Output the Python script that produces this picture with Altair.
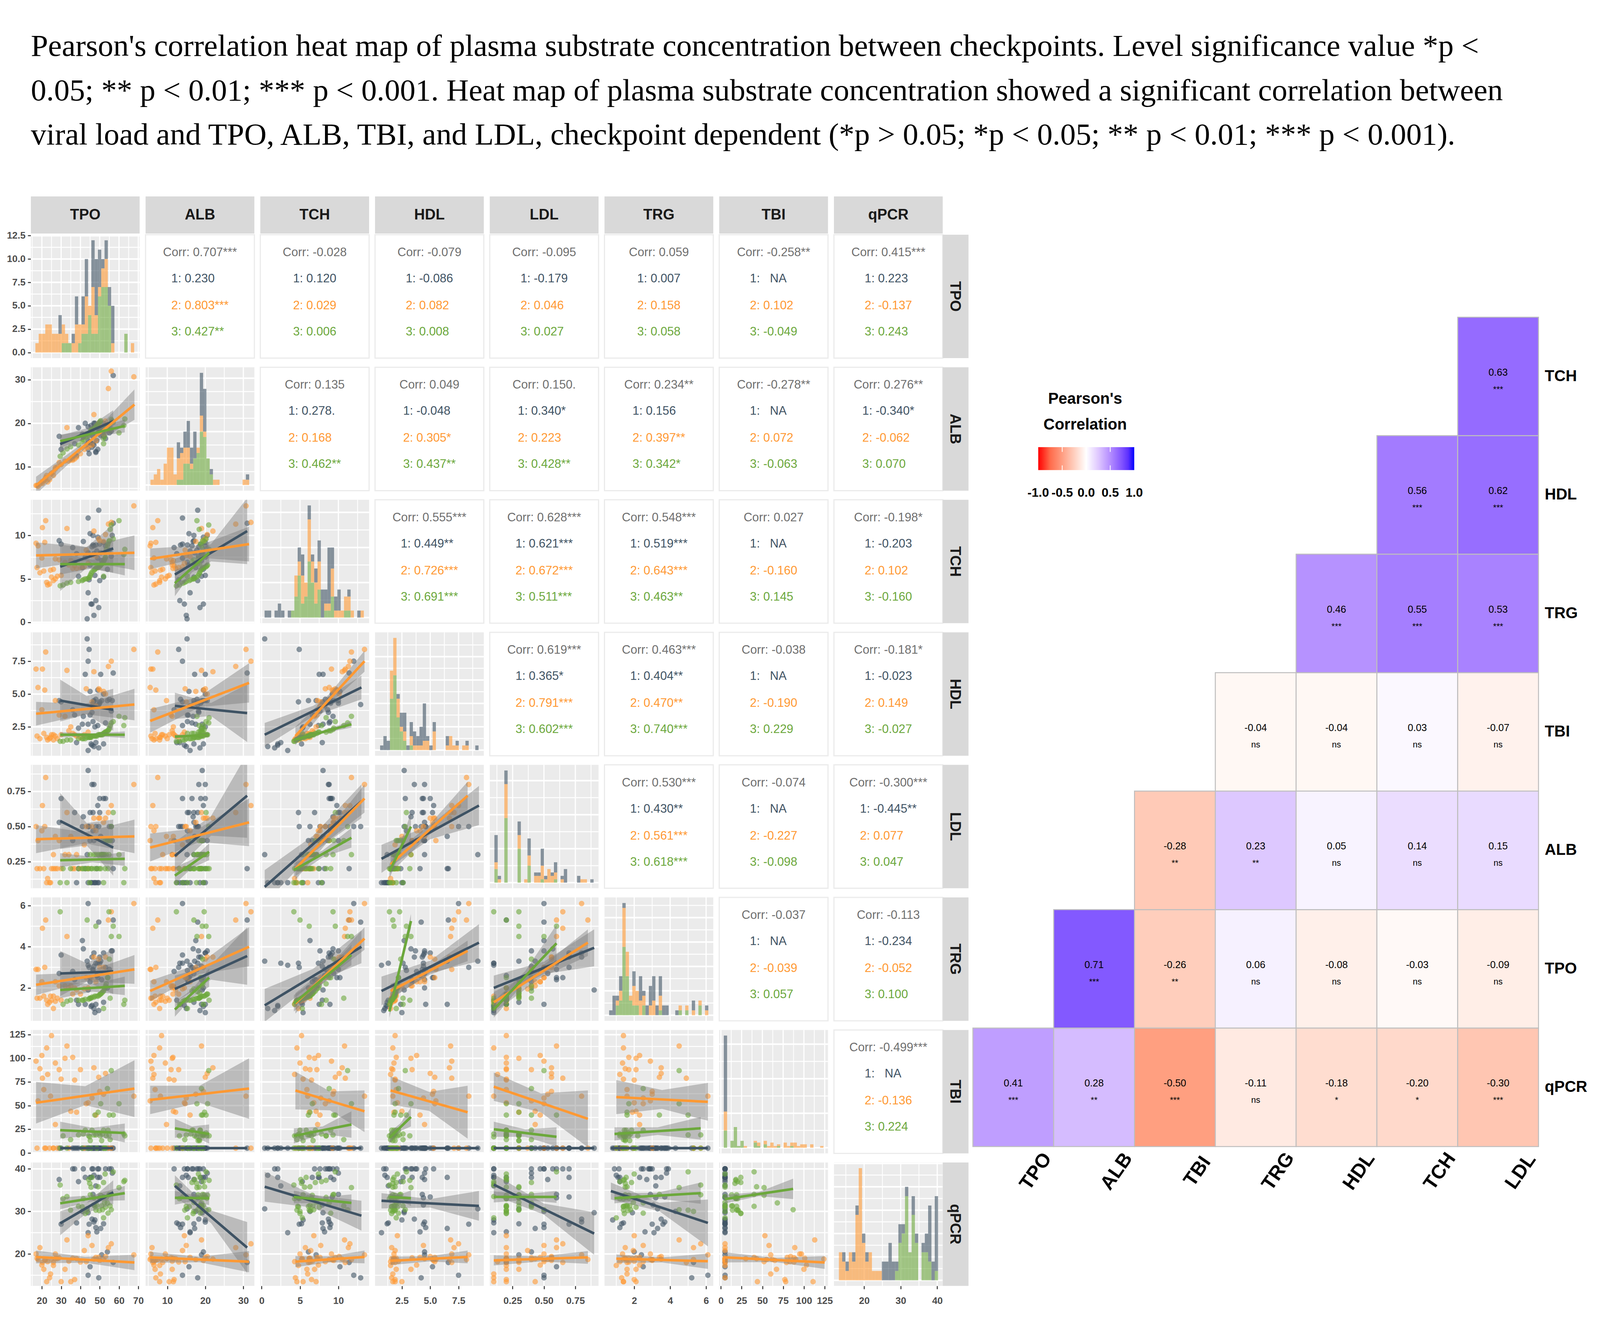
import altair as alt
import pandas as pd

VARS = ["TPO", "ALB", "TCH", "HDL", "LDL", "TRG", "TBI", "qPCR"]
TITLE_LINES = [
    "Pearson's correlation heat map of plasma substrate concentration between checkpoints. Level significance value *p <",
    "0.05; ** p < 0.01; *** p < 0.001. Heat map of plasma substrate concentration showed a significant correlation between",
    "viral load and TPO, ALB, TBI, and LDL, checkpoint dependent (*p > 0.05; *p < 0.05; ** p < 0.01; *** p < 0.001).",
]
C_GROUP = ["#3F5364", "#FF9933", "#6CA83C"]
GROUPS = ["1", "2", "3"]

# axis ranges of each variable
X_DOM = {"TPO": [14.3, 70.7], "ALB": [4.3, 32.9], "TCH": [-0.17, 14.0], "HDL": [0.13, 9.73],
         "LDL": [0.068, 0.935], "TRG": [0.345, 6.4], "TBI": [-2, 129], "qPCR": [11.75, 41.5]}
Y_DOM = {"TPO": [-0.6, 12.6], "ALB": [4.5, 32.9], "TCH": [-0.1, 14.1], "HDL": [0.3, 9.7],
         "LDL": [0.06, 0.94], "TRG": [0.4, 6.4], "TBI": [-0.5, 130], "qPCR": [12.5, 41.5]}
MAJOR = {"TPO": [20, 30, 40, 50, 60, 70], "ALB": [10, 20, 30], "TCH": [0, 5, 10], "HDL": [2.5, 5, 7.5],
         "LDL": [0.25, 0.5, 0.75], "TRG": [2, 4, 6], "TBI": [0, 25, 50, 75, 100, 125], "qPCR": [20, 30, 40]}
MINOR = {"TPO": [15, 25, 35, 45, 55, 65], "ALB": [5, 15, 25], "TCH": [2.5, 7.5, 12.5], "HDL": [1.25, 3.75, 6.25, 8.75],
         "LDL": [0.125, 0.375, 0.625, 0.875], "TRG": [1, 3, 5], "TBI": [12.5, 37.5, 62.5, 87.5, 112.5], "qPCR": [15, 25, 35]}
FMT = {"TPO": "d", "ALB": "d", "TCH": "d", "HDL": ".1f", "LDL": ".2f", "TRG": "d", "TBI": "d", "qPCR": "d"}

# histogram bars: first bin edge, bin width, counts of group 1, 2, 3 per bin
HIST_LO = {"TPO": 16.65, "ALB": 5.58, "TCH": 0.386, "HDL": 0.577, "LDL": 0.105, "TRG": 0.604, "TBI": 3.5, "qPCR": 13.1}
HIST_W = {"TPO": 1.707, "ALB": 0.865, "TCH": 0.431, "HDL": 0.2896, "LDL": 0.02635, "TRG": 0.184, "TBI": 4.0, "qPCR": 0.904}
HIST_MAX = {"TPO": 12, "ALB": 21, "TCH": 16, "HDL": 24, "LDL": 33, "TRG": 23, "TBI": 65, "qPCR": 12}
HIST_MAJOR = {"TPO": [0, 2.5, 5, 7.5, 10, 12.5], "ALB": [0, 5, 10, 15, 20], "TCH": [0, 5, 10, 15], "HDL": [0, 5, 10, 15, 20],
              "LDL": [0, 10, 20, 30], "TRG": [0, 5, 10, 15, 20], "TBI": [0, 20, 40, 60], "qPCR": [0, 2.5, 5, 7.5, 10, 12.5]}
HIST_MINOR = {"TPO": [1.25, 3.75, 6.25, 8.75, 11.25], "ALB": [2.5, 7.5, 12.5, 17.5], "TCH": [2.5, 7.5, 12.5], "HDL": [2.5, 7.5, 12.5, 17.5, 22.5],
              "LDL": [5, 15, 25], "TRG": [2.5, 7.5, 12.5, 17.5, 22.5], "TBI": [10, 30, 50], "qPCR": [1.25, 3.75, 6.25, 8.75, 11.25]}
H_TPO = ([0,0,0,0,0,0,0,2,0,0,0,1,3,0,3,4,0,5,6,4,1,2,2,4,0,0,0,0,0,0],
         [1,2,2,3,3,2,2,2,2,1,0,1,3,2,1,4,1,5,2,1,2,3,0,1,0,0,0,0,0,1],
         [0,0,0,0,0,0,0,0,1,1,1,0,0,1,2,2,4,2,2,6,7,7,5,0,0,0,0,2,0,0])
H_ALB = ([0,0,0,0,0,0,0,0,3,1,3,5,3,5,0,8,8,0,1,0,0,0,0,0,0,0,0,0,0,1],
         [1,2,3,1,4,7,7,2,4,5,3,3,1,0,1,3,1,0,0,1,1,0,0,0,0,0,0,0,1,1],
         [0,0,0,0,0,0,0,0,1,1,4,4,3,5,6,10,9,5,2,0,0,0,0,0,0,0,0,0,0,0])
H_TCH = ([1,1,0,1,2,1,0,1,0,0,2,3,0,2,1,2,3,4,2,8,3,2,3,0,0,1,0,0,1,0],
         [0,0,0,0,0,0,0,0,0,3,2,4,2,6,3,3,4,0,1,1,4,1,1,1,2,2,1,0,0,1],
         [0,0,0,0,0,0,0,0,1,3,6,2,3,8,5,2,4,0,1,1,3,0,0,0,1,1,0,0,0,0])
H_HDL = ([1,3,2,0,0,1,3,4,1,3,3,2,4,8,1,1,2,0,0,0,2,0,0,1,0,0,1,0,0,1],
         [0,0,0,6,8,4,1,2,0,2,1,1,1,2,2,0,4,0,0,0,1,3,1,1,0,1,1,0,0,0],
         [0,0,0,11,16,7,4,2,0,1,0,0,0,0,0,0,0,0,0,0,0,0,0,0,0,0,0,0,0,0])
H_LDL = ([8,1,0,4,0,0,0,4,0,0,5,0,1,1,5,1,0,1,3,0,1,4,0,0,0,2,0,0,0,1],
         [2,1,0,10,0,0,0,4,0,1,3,0,2,2,4,1,4,2,2,0,1,0,0,0,0,0,1,1,0,0],
         [4,0,0,19,0,0,0,10,0,0,5,0,0,0,1,0,0,0,1,0,0,0,0,0,0,0,0,0,0,0])
H_TRG = ([1,4,1,3,1,0,0,3,0,5,1,2,4,5,2,4,2,2,0,0,1,0,0,0,0,2,0,0,0,1],
         [0,0,1,2,8,5,1,4,3,3,2,0,2,3,0,3,0,0,0,0,0,1,0,1,0,1,0,1,0,1],
         [0,0,2,3,14,8,3,2,2,0,2,0,0,0,0,1,0,0,0,0,0,1,0,1,0,0,0,2,0,0])
H_TBI = ([44,0,0,0,0,0,0,0,0,0,0,0,0,0,0,0,0,0,0,0,0,0,0,0,0,0,0,0,0,0],
         [11,0,0,0,0,0,1,0,0,1,2,0,2,1,3,1,1,0,3,1,2,3,1,2,2,0,2,0,0,1],
         [10,0,4,12,1,4,0,0,0,3,1,0,2,0,0,0,1,0,0,0,1,0,0,0,0,0,0,0,0,0])
H_QPCR = ([0,1,1,0,1,1,0,1,1,0,0,0,0,2,2,4,2,1,2,1,1,0,2,1,0,1,2,6,2,8],
          [3,2,1,3,2,7,12,4,2,3,1,1,1,0,0,0,0,0,0,0,0,0,0,0,0,0,0,0,0,0],
          [0,0,0,0,0,0,0,0,0,0,0,0,0,0,0,0,0,1,4,5,9,3,7,4,0,3,3,2,0,1])
H_QPCR = (H_QPCR[0], [3,2,1,3,2,7,12,4,2,3,1,1,1,0,0,0,0,0,0,0,0,0,0,0,0,0,0,0,0,0], H_QPCR[2])
HIST = {"TPO": H_TPO, "ALB": H_ALB, "TCH": H_TCH, "HDL": H_HDL, "LDL": H_LDL, "TRG": H_TRG, "TBI": H_TBI, "qPCR": H_QPCR}

# scatter points, estimated from the panels: TPO, ALB, TCH, HDL, LDL, TRG, TBI, qPCR
G1_ROWS = [
 [43.5,15.2,0.4,9.2,.30,3.3,5,30.6],[47.0,15.0,0.8,1.0,.10,1.0,5,38.5],[49.5,18.6,1.7,0.9,.10,0.9,5,40],
 [46.0,14.5,2.1,1.1,.10,1.15,5,40],[45.5,19.5,2.1,1.2,.10,1.1,5,38],[48.0,13.3,2.5,1.3,.10,3.2,5,36],
 [44.0,16.0,3.4,0.7,.10,3.1,5,25],[50.0,18.0,4.8,4.4,.60,3.2,5,33.2],[44.5,13.0,4.9,8.4,.50,3.0,5,27],
 [52.0,17.0,5.2,1.2,.30,1.3,5,27.1],[39.0,19.0,5.3,2.4,.20,1.2,5,37],[47.5,20.0,5.4,2.5,.10,0.8,5,28],
 [54.0,19.5,6.1,4.5,.40,2.0,5,20.5],[41.0,17.5,6.3,2.7,.50,4.3,5,30],[45.0,15.5,6.6,3.4,.40,2.3,5,38],
 [37.0,15.3,6.9,3.4,.60,2.4,5,40],[51.0,19.0,7.1,4.5,.30,2.4,5,19.8],[49.0,14.0,7.4,2.6,.10,3.2,5,38],
 [42.5,20.0,7.5,6.5,.20,1.2,5,38],[56.0,18.2,7.6,3.7,.50,3.8,5,40],[44.0,19.2,8.0,2.7,.90,1.9,5,29.7],
 [38.0,12.5,7.9,1.3,.10,1.4,5,27.3],[47.0,19.0,7.9,4.4,.40,3.05,5,31.5],[50.5,17.2,8.0,6.5,.43,3.3,5,26],
 [48.5,16.0,8.2,4.1,.20,2.6,5,25.2],[55.0,17.8,8.3,4.6,.50,2.9,5,40],[36.0,11.8,8.6,3.8,.40,2.8,5,40],
 [46.0,18.3,8.7,3.6,.80,3.5,5,28.2],[47.0,20.0,8.8,4.5,.80,3.7,5,27.5],[53.0,16.5,8.8,2.8,.70,3.0,5,40],
 [46.5,15.3,8.9,2.9,.47,2.85,5,40],[48.0,13.5,8.9,4.6,.50,1.2,5,26.2],[50.0,18.8,9.0,4.3,.70,3.5,5,38],
 [30.0,14.0,9.0,4.4,.70,3.6,5,27],[52.0,20.0,9.2,5.0,.70,3.7,5,33.4],[41.5,16.8,9.3,3.3,.57,3.9,5,40],
 [29.0,17.0,9.4,4.5,.53,2.7,5,37.5],[49.0,19.5,9.8,5.3,.65,2.5,5,40],[56.5,20.5,10.0,4.5,.40,3.8,5,39],
 [46.5,17.0,10.0,4.3,.60,2.9,5,34],[45.0,15.7,10.2,5.2,.60,2.5,5,17],[57.0,31.0,11.4,6.6,.20,5.3,5,18],
 [44.0,14.0,12.0,7.5,.50,6.1,5,15],[49.5,18.0,12.9,4.2,.50,5.2,5,14.4],
]
G2_ROWS = [
 [23,6.5,4.3,1.5,.13,1.2,83,18.2],[24,7,4.4,1.6,.10,1.3,5,14.4],[22.5,8,4.6,1.7,.10,1.4,111,13.5],
 [26,8,4.8,1.5,.20,1.0,5,17.3],[27,9.5,5.0,1.8,.20,1.35,95,20.0],[25,8.5,5.2,1.9,.20,1.4,124,18.8],
 [28,10,5.3,1.6,.20,1.5,5,18.9],[30,10.5,5.4,1.9,.20,1.4,78,13.5],[17.5,5.7,6.3,1.8,.20,1.5,5,19.0],
 [19,6,5.7,1.6,.20,1.5,89,21.5],[21,6.8,5.9,2.0,.20,1.6,67,16.4],[24.5,8.2,6.0,1.7,.10,1.6,60,15.3],
 [26,8.8,6.1,1.9,.30,1.6,5,18.0],[36,11.5,6.2,2.0,.20,1.7,101,19.0],[38,12.2,6.2,1.8,.30,1.9,43,18.9],
 [40,13,6.3,1.7,.20,1.7,88,18.1],[42,14,6.4,1.9,.37,1.95,5,20.8],[37,11.8,6.5,1.9,.20,2.0,77,14.0],
 [34,11.3,6.6,2.2,.30,2.0,5,18.3],[44,14.5,6.8,2.1,.20,2.0,53,24.3],[32,11.3,6.9,3.3,.30,2.1,100,16.4],
 [35,11.6,7.1,2.5,.43,2.1,44,13.5],[29,11,7.2,3.4,.40,2.1,88,19.1],[27,9.8,7.3,4.5,.43,2.3,30,18.9],
 [20,6.5,7.4,3.8,.47,2.3,103,17.4],[48,16,7.6,4.1,.47,2.3,40,19.2],[46,15,7.7,4.4,.50,2.5,58,22],
 [43,14.7,8.3,5.4,.50,2.5,52,18.2],[18,5.5,8.8,5.5,.40,2.9,55,18.7],[17,5.7,9.1,6.9,.50,2.9,97,20.0],
 [21.5,7,9.2,5.3,.50,3.0,5,18.6],[52,17.5,9.3,5.2,.53,3.0,62,18.7],[50,19.5,9.4,5.3,.56,3.0,65,18.5],
 [49.5,20,9.6,5.4,.56,3.4,80,19.2],[53,20.5,10.1,5.0,.56,3.5,84,19.4],[47,22,10.5,6.7,.56,3.5,90,18.8],
 [33,19,10.8,6.8,.60,4.5,113,23.3],[20.3,6.2,10.9,6.9,.65,4.9,79,18.0],[54.5,28,11.3,7.1,.60,5.3,5,21.5],
 [56,32,11.5,7.5,.65,5.7,5,22.4],[22,7.5,11.7,8.2,.85,5.3,5,18.7],[67.7,30.7,13.4,8.4,.80,6.1,60,19.8],
]
G3_ROWS = [
 [29.5,12.4,4.2,1.4,.10,5.7,5,36.2],[31,13.2,4.3,1.4,.20,1.2,18,33],[33,14.1,4.5,1.5,.10,1.35,5,33.5],
 [34.9,14.6,4.6,1.5,.20,1.4,14,30.3],[39,15,4.7,1.6,.20,1.4,19,31.2],[40.9,15.8,4.8,1.6,.20,1.4,5,31.1],
 [41.5,16.2,4.9,1.6,.20,1.4,20,33],[42.5,16.8,5.0,1.6,.20,1.45,24,29.5],[43.5,17,5.0,1.7,.20,5.3,5,30],
 [44.3,17.2,5.1,1.7,.20,1.45,18,37.5],[44.8,17.7,5.2,1.7,.10,1.5,17,36.6],[45.1,18.1,5.4,1.7,.30,1.5,13,33.9],
 [45.5,18.4,5.6,1.7,.20,1.5,5,35.7],[46,18.6,5.8,1.8,.20,1.55,24,38],[47,18.8,6.0,1.8,.30,1.55,19,33.2],
 [47.5,19,6.1,1.8,.20,1.6,40,31.2],[48,19.2,6.2,1.8,.30,5.0,19,30.3],[48.5,19.5,6.3,1.8,.20,1.6,5,31.4],
 [49.2,19.8,6.3,1.9,.30,1.6,43,35.8],[49.8,20.2,6.4,1.9,.20,1.65,21,30.2],[50.2,20.4,6.5,1.9,.30,1.7,18,33.1],
 [50.5,20.6,6.6,1.9,.20,1.7,52,33.8],[51,18.5,6.7,1.9,.30,1.75,13,31.3],[51.5,18,6.8,1.9,.30,1.8,20,30.4],
 [52,16.5,7.0,2.0,.40,1.85,24,36.8],[52.5,17,7.2,2.0,.30,1.95,5,32.1],[52.8,18.2,7.4,2.1,.20,2.0,5,38.8],
 [53,19.1,7.5,2.1,.40,2.1,5,31],[53.4,19.4,8.4,2.1,.30,2.2,18,33.3],[54,19,8.8,2.2,.40,2.5,68,32],
 [54.3,18.7,9.0,2.2,.20,2.5,24,29.6],[54.8,19.7,9.3,2.3,.30,5.7,19,33.9],[55,19.3,9.4,2.4,.40,3.4,40,34],
 [55.4,18.4,10.7,2.6,.40,1.5,14,31.3],[56,20.9,11.2,2.8,.50,4.5,87,30.4],[57,20.2,9.6,2.9,.60,5.0,40,39.3],
 [60,17.8,11.7,3.3,.30,4.5,52,35.6],[63,21.0,8.4,3.2,.20,1.4,18,37.3],[62.5,19.5,7.8,2.6,.10,1.2,20,37.0],
 [52,15.3,5.3,2.0,.10,1.0,5,28.5],
]
POINT_COLS = ["TPO", "ALB", "TCH", "HDL", "LDL", "TRG", "TBI", "qPCR"]

# x range of each fitted line per group
FIT_X = {"TPO": [(29.5,57),(17,68),(29.5,63)], "ALB": [(12,31),(5.5,31.5),(12,21)],
         "TCH": [(0.4,13),(4.4,13.4),(4.2,11.7)], "HDL": [(0.7,9.3),(1.5,8.3),(1.4,3.3)],
         "LDL": [(0.1,0.9),(0.1,0.85),(0.1,0.6)], "TRG": [(0.7,6.1),(1.0,6.1),(0.9,5.7)],
         "TBI": [None,(5,125),(5,87)]}
# fitted lines per panel (y variable, x variable): group 1, 2, 3 as (y left, y right, band half width left, middle, right)
FIT_ALB = {"TPO": [(15.2,20.5,2,1,2.5),(5.7,24.3,2,.8,3.5),(15.9,19.4,1.5,.8,1.5)]}
FIT_TCH = {"TPO": [(6.4,8.5,2.8,1.2,2.8),(7.7,8.0,1.5,.8,2),(6.7,6.7,1.2,.5,1.3)],
           "ALB": [(5.5,10.5,1.8,1,3.8),(7.3,9.0,1.2,.7,2),(4.5,8,1.5,.5,1.3)]}
FIT_HDL = {"TPO": [(4.5,3.8,1.6,.7,1.6),(3.5,4.2,.9,.4,1.2),(1.9,1.9,.2,.1,.25)],
           "ALB": [(4.1,3.55,1,.5,2.2),(2.95,5.85,.9,.4,1.5),(1.75,1.9,.15,.08,.15)],
           "TCH": [(1.9,5.5,.9,.4,.9),(1.8,7.5,.7,.4,.8),(1.5,2.7,.2,.1,.25)]}
FIT_LDL = {"TPO": [(.54,.35,.2,.08,.2),(.41,.43,.1,.04,.12),(.26,.27,.05,.02,.05)],
           "ALB": [(.29,.72,.1,.07,.3),(.35,.53,.1,.05,.17),(.15,.32,.06,.03,.06)],
           "TCH": [(.07,.68,.12,.06,.12),(.2,.7,.08,.04,.1),(.19,.42,.05,.025,.07)],
           "HDL": [(.27,.65,.1,.05,.14),(.23,.72,.06,.035,.1),(.18,.5,.05,.03,.1)]}
FIT_TRG = {"TPO": [(2.7,2.8,1.1,.45,1.1),(2.15,2.9,.5,.22,.7),(1.9,2.1,.4,.18,.45)],
           "ALB": [(1.95,3.55,.65,.35,1.4),(1.85,4,.5,.25,.95),(.95,2.5,.35,.2,.45)],
           "TCH": [(1.15,4,.8,.35,.8),(1.25,4.4,.5,.25,.55),(1.25,3.6,.4,.2,.5)],
           "HDL": [(1.85,4.2,.7,.3,.9),(1.85,3.8,.35,.2,.5),(.85,5.25,.3,.2,.35)],
           "LDL": [(2,3.95,.6,.3,.9),(1.3,4.2,.5,.25,.65),(.95,4.17,.4,.25,.9)]}
FIT_TBI = {"TPO": [(5,5,0,0,0),(53,68,22,10,30),(24,21,9,4,10)],
           "ALB": [(5,5,0,0,0),(56,68,15,9,32),(26,20,10,5,10)],
           "TCH": [(5,5,0,0,0),(66,44,20,10,22),(18,30,8,4,14)],
           "HDL": [(5,5,0,0,0),(66,43,15,10,28),(16,38,6,4,10)],
           "LDL": [(5,5,0,0,0),(70,36,15,10,30),(25,17,8,4,10)],
           "TRG": [(5,5,0,0,0),(59,54,18,10,20),(20,26,7,4,12)]}
FIT_QPCR = {"TPO": [(27.2,34.5,2.8,1.2,2.8),(19.3,18,1.5,.7,1.8),(31.9,34.3,1.4,.7,1.7)],
            "ALB": [(36,21.5,2.5,1.5,6),(19.2,18.2,1.3,.65,2.5),(33.2,33.1,1.6,.8,1.6)],
            "TCH": [(35.8,29,3.5,1.5,3.5),(18.2,19.3,1.3,.7,1.5),(33.4,32,1.5,.7,2)],
            "HDL": [(32.5,31.3,1.8,1,3.5),(18.4,19.3,1,.6,1.5),(33.4,33.1,1.5,.8,1.8)],
            "LDL": [(36.3,24.8,2.5,1.3,5),(18.5,19.2,1.2,.6,1.5),(33.4,33.4,1.3,.7,1.4)],
            "TRG": [(34.8,27.3,2,1,5.5),(18.9,18.3,1,.6,1.8),(33.1,34.3,1.2,.7,2.5)],
            "TBI": [None,(19.2,18,1.2,.5,1.5),(32.9,35.3,1,.5,2.4)]}
FITS = {"ALB": FIT_ALB, "TCH": FIT_TCH, "HDL": FIT_HDL, "LDL": FIT_LDL, "TRG": FIT_TRG, "TBI": FIT_TBI, "qPCR": FIT_QPCR}

# correlation text: row variable -> column variable -> overall, group 1, 2, 3
NA = "\u00a0\u00a0NA"
CORR_TPO = {"ALB": ["0.707***","0.230","0.803***","0.427**"], "TCH": ["-0.028","0.120","0.029","0.006"],
            "HDL": ["-0.079","-0.086","0.082","0.008"], "LDL": ["-0.095","-0.179","0.046","0.027"],
            "TRG": ["0.059","0.007","0.158","0.058"], "TBI": ["-0.258**",NA,"0.102","-0.049"],
            "qPCR": ["0.415***","0.223","-0.137","0.243"]}
CORR_ALB = {"TCH": ["0.135","0.278.","0.168","0.462**"], "HDL": ["0.049","-0.048","0.305*","0.437**"],
            "LDL": ["0.150.","0.340*","0.223","0.428**"], "TRG": ["0.234**","0.156","0.397**","0.342*"],
            "TBI": ["-0.278**",NA,"0.072","-0.063"], "qPCR": ["0.276**","-0.340*","-0.062","0.070"]}
CORR_TCH = {"HDL": ["0.555***","0.449**","0.726***","0.691***"], "LDL": ["0.628***","0.621***","0.672***","0.511***"],
            "TRG": ["0.548***","0.519***","0.643***","0.463**"], "TBI": ["0.027",NA,"-0.160","0.145"],
            "qPCR": ["-0.198*","-0.203","0.102","-0.160"]}
CORR_HDL = {"LDL": ["0.619***","0.365*","0.791***","0.602***"], "TRG": ["0.463***","0.404**","0.470**","0.740***"],
            "TBI": ["-0.038",NA,"-0.190","0.229"], "qPCR": ["-0.181*","-0.023","0.149","-0.027"]}
CORR_LDL = {"TRG": ["0.530***","0.430**","0.561***","0.618***"], "TBI": ["-0.074",NA,"-0.227","-0.098"],
            "qPCR": ["-0.300***","-0.445**","0.077","0.047"]}
CORR_TRG = {"TBI": ["-0.037",NA,"-0.039","0.057"], "qPCR": ["-0.113","-0.234","-0.052","0.100"]}
CORR_TBI = {"qPCR": ["-0.499***",NA,"-0.136","0.224"]}
CORR = {"TPO": CORR_TPO, "ALB": CORR_ALB, "TCH": CORR_TCH, "HDL": CORR_HDL, "LDL": CORR_LDL, "TRG": CORR_TRG, "TBI": CORR_TBI}

# heat map on the right
HEAT_COLS = ["TPO", "ALB", "TBI", "TRG", "HDL", "TCH", "LDL"]
HEAT_ROWS = ["qPCR", "TPO", "ALB", "TBI", "TRG", "HDL", "TCH"]
HEAT_qPCR = [(0.41,"***"),(0.28,"**"),(-0.50,"***"),(-0.11,"ns"),(-0.18,"*"),(-0.20,"*"),(-0.30,"***")]
HEAT_TPO = [None,(0.71,"***"),(-0.26,"**"),(0.06,"ns"),(-0.08,"ns"),(-0.03,"ns"),(-0.09,"ns")]
HEAT_ALB = [None,None,(-0.28,"**"),(0.23,"**"),(0.05,"ns"),(0.14,"ns"),(0.15,"ns")]
HEAT_TBI = [None,None,None,(-0.04,"ns"),(-0.04,"ns"),(0.03,"ns"),(-0.07,"ns")]
HEAT_TRG = [None,None,None,None,(0.46,"***"),(0.55,"***"),(0.53,"***")]
HEAT_HDL = [None,None,None,None,None,(0.56,"***"),(0.62,"***")]
HEAT_TCH = [None,None,None,None,None,None,(0.63,"***")]
HEAT = [HEAT_qPCR, HEAT_TPO, HEAT_ALB, HEAT_TBI, HEAT_TRG, HEAT_HDL, HEAT_TCH]

# colour bar of the heat map
BAR_STOPS = [(-1, "#FF0000"), (-.75, "#FF6C4C"), (-.5, "#FF9E82"), (-.25, "#FFCFBF"), (0, "#FFFFFF"),
             (.25, "#DFC8FF"), (.5, "#B48DFF"), (.75, "#8051FF"), (.875, "#5C30FF"), (1, "#0000FF")]
BAR_LABELS = ["-1.0", "-0.5", "0.0", "0.5", "1.0"]
BAR_VALUES = [-1, -0.5, 0, 0.5, 1]
BAR_TITLE = ["Pearson's", "Correlation"]

# the page is 4096 wide when photographed: widths and font sizes are set for that width, heights for 3375
W, H = 278.5, 316
STRIP_W = 66
FONT = "Liberation Sans"
LINE_Y = [46, 113, 182, 249]
CORR_SIZE = 30.7
CHAR = {"*": .389, ".": .278, ":": .278, " ": .278, "\u00a0": .278, "-": .333, "N": .722, "A": .667}


def width_em(s):
    return sum(CHAR.get(c, .556) for c in s)


points = []
for gi, rows in enumerate([G1_ROWS, G2_ROWS, G3_ROWS]):
    for r in rows:
        d = dict(zip(POINT_COLS, r))
        d["g"] = GROUPS[gi]
        points.append(d)
POINTS = pd.DataFrame(points)
COLOR = alt.Color("g:N", scale=alt.Scale(domain=GROUPS, range=C_GROUP), legend=None)


def xscale(v):
    return alt.Scale(domain=X_DOM[v], nice=False, zero=False)


def make_axis(values, fmt, pad):
    return alt.Axis(values=values, format=fmt, title=None, grid=False, domain=False, tickColor="#333333",
                    tickSize=8, tickWidth=2.5, labelFontSize=24.6, labelColor="#4D4D4D", labelPadding=pad,
                    labelOverlap=False, labelFlush=False, labelFont=FONT, labelFontWeight="bold")


def grid_layers(xv, yscale, y_major, y_minor, ax, ay):
    xs = xscale(xv)
    lay = []
    lay.append(alt.Chart(pd.DataFrame({"v": MINOR[xv]})).mark_rule(color="white", strokeWidth=2)
               .encode(x=alt.X("v:Q", scale=xs, axis=ax)))
    lay.append(alt.Chart(pd.DataFrame({"v": y_minor})).mark_rule(color="white", strokeWidth=2.5)
               .encode(y=alt.Y("v:Q", scale=yscale, axis=ay)))
    lay.append(alt.Chart(pd.DataFrame({"v": MAJOR[xv]})).mark_rule(color="white", strokeWidth=3)
               .encode(x=alt.X("v:Q", scale=xs, axis=ax)))
    lay.append(alt.Chart(pd.DataFrame({"v": y_major})).mark_rule(color="white", strokeWidth=4)
               .encode(y=alt.Y("v:Q", scale=yscale, axis=ay)))
    return lay


def strip_top(name):
    return [alt.Chart(pd.DataFrame({"label": [name]})).mark_rect(color="#D9D9D9")
            .encode(x=alt.value(0), x2=alt.value(W), y=alt.value(-98), y2=alt.value(-3)),
            alt.Chart(pd.DataFrame({"label": [name]}))
            .mark_text(fontSize=38, fontWeight="bold", font=FONT, color="#1A1A1A", baseline="middle")
            .encode(text="label:N", x=alt.value(W / 2), y=alt.value(-50))]


def strip_right(name):
    return [alt.Chart(pd.DataFrame({"label": [name]})).mark_rect(color="#D9D9D9")
            .encode(x=alt.value(W), x2=alt.value(W + STRIP_W), y=alt.value(0), y2=alt.value(H)),
            alt.Chart(pd.DataFrame({"label": [name]}))
            .mark_text(fontSize=38, fontWeight="bold", font=FONT, color="#1A1A1A", baseline="middle", angle=90)
            .encode(text="label:N", x=alt.value(W + 31), y=alt.value(H / 2))]


def hist_panel(v, show_x, show_y, extra):
    M = HIST_MAX[v]
    ys = alt.Scale(domain=[-0.05 * M, 1.05 * M], nice=False, zero=False)
    xs = xscale(v)
    ax = make_axis(MAJOR[v], FMT[v], 19) if show_x else None
    ay = make_axis(HIST_MAJOR[v], ".1f", 6) if show_y else None
    rows = []
    for k in range(30):
        base = 0
        for g in [2, 1, 0]:
            c = HIST[v][g][k]
            if c:
                rows.append({"x0": HIST_LO[v] + k * HIST_W[v], "x1": HIST_LO[v] + (k + 1) * HIST_W[v],
                             "y0": base, "y1": base + c, "g": GROUPS[g]})
                base += c
    lay = grid_layers(v, ys, HIST_MAJOR[v], HIST_MINOR[v], ax, ay)
    lay.append(alt.Chart(pd.DataFrame(rows)).mark_rect(opacity=0.6).encode(
        x=alt.X("x0:Q", scale=xs, axis=ax), x2="x1:Q",
        y=alt.Y("y0:Q", scale=ys, axis=ay), y2="y1:Q", color=COLOR))
    return alt.layer(*lay, *extra).properties(width=W, height=H, view=alt.ViewBackground(fill="#EBEBEB", stroke=None))


def scatter_panel(xv, yv, show_x, show_y, extra):
    xs = xscale(xv)
    ys = alt.Scale(domain=Y_DOM[yv], nice=False, zero=False)
    ax = make_axis(MAJOR[xv], FMT[xv], 19) if show_x else None
    ay = make_axis(MAJOR[yv], FMT[yv], 6) if show_y else None
    lay = grid_layers(xv, ys, MAJOR[yv], MINOR[yv], ax, ay)
    lay.append(alt.Chart(POINTS).mark_point(filled=True, size=200, opacity=0.6, stroke=None).encode(
        x=alt.X(f"{xv}:Q", scale=xs, axis=ax), y=alt.Y(f"{yv}:Q", scale=ys, axis=ay), color=COLOR))
    band, line = [], []
    for gi, fit in enumerate(FITS[yv][xv]):
        if fit is None:
            continue
        x0, x1 = FIT_X[xv][gi]
        yl, yr, hl, hm, hr = fit
        xm, ym = (x0 + x1) / 2, (yl + yr) / 2
        for x, y, h in [(x0, yl, hl), (xm, ym, hm), (x1, yr, hr)]:
            band.append({"x": x, "lo": y - h, "hi": y + h, "g": GROUPS[gi]})
            line.append({"x": x, "y": y, "g": GROUPS[gi]})
    lay.append(alt.Chart(pd.DataFrame(band)).mark_area(color="#7A7A7A", opacity=0.42, clip=True).encode(
        x=alt.X("x:Q", scale=xs, axis=ax), y=alt.Y("lo:Q", scale=ys, axis=ay), y2="hi:Q", detail="g:N"))
    lay.append(alt.Chart(pd.DataFrame(line)).mark_line(strokeWidth=6.5, clip=True).encode(
        x=alt.X("x:Q", scale=xs, axis=ax), y=alt.Y("y:Q", scale=ys, axis=ay), color=COLOR, detail="g:N"))
    return alt.layer(*lay, *extra).properties(width=W, height=H, view=alt.ViewBackground(fill="#EBEBEB", stroke=None))


def corr_panel(rv, cv, extra):
    vals = CORR[rv][cv]
    lines = [f"{g}: {vals[i + 1]}" for i, g in enumerate(GROUPS)]
    maxw = max(width_em(s) for s in lines) * CORR_SIZE
    rows = [{"tx": W / 2 - maxw / 2, "ty": LINE_Y[i + 1], "t": s, "g": GROUPS[i]} for i, s in enumerate(lines)]
    head = pd.DataFrame({"t": [f"Corr: {vals[0]}"]})
    lay = [alt.Chart(head).mark_text(fontSize=CORR_SIZE, font=FONT, color="#6F6F6F", baseline="middle")
           .encode(text="t:N", x=alt.value(W / 2), y=alt.value(LINE_Y[0])),
           alt.Chart(pd.DataFrame(rows)).mark_text(fontSize=CORR_SIZE, font=FONT, align="left", baseline="middle")
           .encode(text="t:N", x=alt.X("tx:Q", scale=None, axis=None), y=alt.Y("ty:Q", scale=None, axis=None), color=COLOR)]
    return alt.layer(*lay, *extra).properties(
        width=W, height=H, view=alt.ViewBackground(fill="white", stroke="#EBEBEB", strokeWidth=3))


# title text, carried by the first panel; flush layout ignores its extent
TITLE_Y = [-458, -344, -231]
title_layer = alt.Chart(pd.DataFrame({"t": TITLE_LINES, "ty": TITLE_Y})).mark_text(
    font="Liberation Serif", fontSize=79.2, color="black", align="left", baseline="alphabetic").encode(
    text="t:N", x=alt.value(0), y=alt.Y("ty:Q", scale=None, axis=None))

# heat map: placed in a ninth grid column, with its scale ranges set to the drawn size
cell_rows = []
for ri, row in enumerate(HEAT):
    for ci, item in enumerate(row):
        if item is None:
            continue
        val, sig = item
        cell_rows.append({"x0": ci, "x1": ci + 1, "y0": ri, "y1": ri + 1, "xc": ci + .5, "yc": ri + .5,
                          "val": val, "label": f"{val:.2f}", "sig": sig})
CELLS = pd.DataFrame(cell_rows)
HX = alt.Scale(domain=[0, 7], range=[62, 1510], nice=False, zero=False)
HY = alt.Scale(domain=[0, 7.696], range=[2335, 0], nice=False, zero=False)
fill = alt.Color("val:Q", scale=alt.Scale(domain=[-1, 0, 1], range=["#FF0000", "#FFFFFF", "#0000FF"], interpolate="lab"), legend=None)
heat_cells = alt.Chart(CELLS).mark_rect(stroke="#BEBEBE", strokeWidth=2.5).encode(
    x=alt.X("x0:Q", scale=HX, axis=None), x2="x1:Q", y=alt.Y("y0:Q", scale=HY, axis=None), y2="y1:Q", color=fill)
heat_val = alt.Chart(CELLS).mark_text(fontSize=25.3, font=FONT, color="black", baseline="middle", dy=-10).encode(
    x=alt.X("xc:Q", scale=HX, axis=None), y=alt.Y("yc:Q", scale=HY, axis=None), text="label:N")
heat_sig = alt.Chart(CELLS).mark_text(fontSize=22, font=FONT, color="black", baseline="middle", dy=33).encode(
    x=alt.X("xc:Q", scale=HX, axis=None), y=alt.Y("yc:Q", scale=HY, axis=None), text="sig:N")
right_df = pd.DataFrame({"name": HEAT_ROWS, "x": [7] * 7, "yc": [i + .5 for i in range(7)]})
heat_right = alt.Chart(right_df).mark_text(fontSize=40, font=FONT, fontWeight="bold", color="black", align="left",
                                           baseline="middle", dx=16).encode(
    x=alt.X("x:Q", scale=HX, axis=None), y=alt.Y("yc:Q", scale=HY, axis=None), text="name:N")
bottom_df = pd.DataFrame({"name": HEAT_COLS, "xc": [i + .5 for i in range(7)], "y": [0] * 7})
heat_bottom = alt.Chart(bottom_df).mark_text(fontSize=50, font=FONT, fontWeight="bold", color="black", align="center",
                                             baseline="middle", angle=305, dx=-19, dy=84).encode(
    x=alt.X("xc:Q", scale=HX, axis=None), y=alt.Y("y:Q", scale=HY, axis=None), text="name:N")

# colour bar, placed in the heat map's own units
BAR_X0, BAR_X1, BAR_Y0, BAR_Y1 = 0.8086, 1.9967, 5.709, 5.903
span = BAR_X1 - BAR_X0
gradient = alt.Gradient(gradient="linear", x1=0, x2=1, y1=0, y2=0,
                        stops=[alt.GradientStop(offset=(v + 1) / 2, color=c) for v, c in BAR_STOPS])
bar = alt.Chart(pd.DataFrame({"x0": [BAR_X0], "x1": [BAR_X1], "y0": [BAR_Y0], "y1": [BAR_Y1]})).mark_rect(color=gradient).encode(
    x=alt.X("x0:Q", scale=HX, axis=None), x2="x1:Q", y=alt.Y("y0:Q", scale=HY, axis=None), y2="y1:Q")
bar_pos = [BAR_X0 + (v + 1) / 2 * span for v in BAR_VALUES]
bar_labels = alt.Chart(pd.DataFrame({"x": bar_pos, "y": [5.517] * 5, "t": BAR_LABELS})).mark_text(
    fontSize=32, font=FONT, fontWeight="bold", color="black", baseline="middle").encode(
    x=alt.X("x:Q", scale=HX, axis=None), y=alt.Y("y:Q", scale=HY, axis=None), text="t:N")
tick_rows = []
for p in bar_pos[1:-1]:
    tick_rows.append({"x": p, "a": BAR_Y0, "b": BAR_Y0 + 0.04})
    tick_rows.append({"x": p, "a": BAR_Y1 - 0.04, "b": BAR_Y1})
bar_ticks = alt.Chart(pd.DataFrame(tick_rows)).mark_rule(color="white", strokeWidth=2).encode(
    x=alt.X("x:Q", scale=HX, axis=None), y=alt.Y("a:Q", scale=HY, axis=None), y2="b:Q")
bar_title = alt.Chart(pd.DataFrame({"x": [1.389, 1.389], "y": [6.309, 6.091], "t": BAR_TITLE})).mark_text(
    fontSize=40, font=FONT, fontWeight="bold", color="black", baseline="middle").encode(
    x=alt.X("x:Q", scale=HX, axis=None), y=alt.Y("y:Q", scale=HY, axis=None), text="t:N")

heat = alt.layer(heat_cells, heat_val, heat_sig, heat_right, heat_bottom, bar, bar_ticks, bar_labels, bar_title).properties(
    width=W, height=H, view=alt.ViewBackground(fill=None, stroke=None))


def placeholder():
    return alt.Chart(pd.DataFrame({"t": [""]})).mark_text().encode(text="t:N").properties(
        width=W, height=H, view=alt.ViewBackground(fill=None, stroke=None))


panels = []
for ri, rv in enumerate(VARS):
    for ci, cv in enumerate(VARS):
        extra = []
        if ri == 0:
            extra += strip_top(cv)
        if ri == 0 and ci == 0:
            extra.append(title_layer)
        if ci == 7:
            extra += strip_right(rv)
        show_x, show_y = ri == 7, ci == 0
        if ri == ci:
            panels.append(hist_panel(cv, show_x, show_y, extra))
        elif ri > ci:
            panels.append(scatter_panel(cv, rv, show_x, show_y, extra))
        else:
            panels.append(corr_panel(rv, cv, extra))
    panels.append(heat if ri == 0 else placeholder())

chart = alt.concat(*panels, columns=9, spacing={"row": 23.4, "column": 14.7}, bounds="flush").properties(
    padding={"left": 9, "top": 72, "right": 0, "bottom": 0},
    background="white",
).resolve_scale(color="independent").configure(font=FONT)

chart.save("out.html", embed_options={"renderer": "svg", "actions": False})
